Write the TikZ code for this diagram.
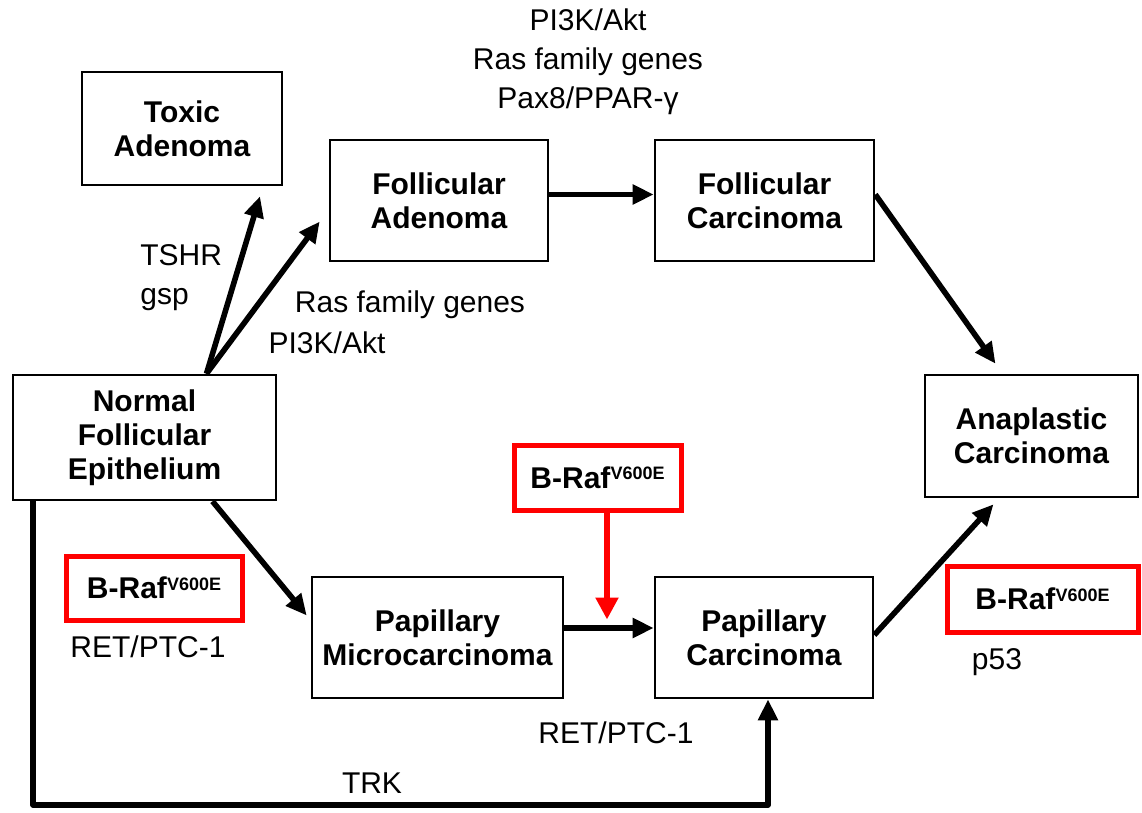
\documentclass[tikz,border=0pt]{standalone}
\usepackage{fontspec}
\setmainfont{Liberation Sans}
\usetikzlibrary{arrows.meta}
\newcommand{\braf}{\textbf{B-Raf}\raisebox{4.2pt}{\fontsize{9}{9}\selectfont\bfseries V600E}}
\begin{document}
\begin{tikzpicture}[x=0.5pt,y=-0.5pt,
  box/.style={draw,line width=1.3pt,align=center,inner sep=0pt,
    font=\fontsize{15}{17}\selectfont\bfseries},
  rbox/.style={draw=red,line width=2.5pt,inner sep=0pt,
    font=\fontsize{15}{17}\selectfont},
  arr/.style={line width=2.8pt,line join=round,-{Triangle[length=10.5pt,width=9.5pt]}},
  rarr/.style={draw=red,line width=2.6pt,-{Triangle[length=11pt,width=11pt]}},
  lab/.style={font=\fontsize{15}{19.5}\selectfont,inner sep=0pt}]
\useasboundingbox (0,0) rectangle (1142,813);
% boxes
\node[box,minimum width=100pt,minimum height=56.5pt] (toxic) at (182,128.5) {Toxic\\Adenoma};
\node[box,minimum width=109pt,minimum height=60.5pt] (fa) at (439,200.5) {Follicular\\Adenoma};
\node[box,minimum width=109.5pt,minimum height=60.5pt] (fc) at (764.5,200.5) {Follicular\\Carcinoma};
\node[box,minimum width=131.5pt,minimum height=62.5pt] (normal) at (144.5,437.5) {Normal\\Follicular\\Epithelium};
\node[box,minimum width=106.5pt,minimum height=61pt] (ana) at (1031.5,436) {Anaplastic\\Carcinoma};
\node[box,minimum width=125.5pt,minimum height=60.5pt] (pm) at (437.5,637.5) {Papillary\\Microcarcinoma};
\node[box,minimum width=109pt,minimum height=60.5pt] (pc) at (764,637.5) {Papillary\\Carcinoma};
\node[rbox,minimum width=83.5pt,minimum height=32.5pt] (rtop) at (597.5,477.5) {\braf};
\node[rbox,minimum width=88pt,minimum height=32pt] (rleft) at (154,588) {\braf};
\node[rbox,minimum width=95.5pt,minimum height=33pt] (rright) at (1042.5,599) {\braf};
% labels
\node[lab,align=center] (ltop) at (588,62) {PI3K/Akt\\Ras family genes\\Pax8/PPAR-γ};
\node[lab,align=left,anchor=west] (ltshr) at (140,277.5) {TSHR\\gsp};
\node[lab] (lras) at (410,305) {Ras family genes};
\node[lab] (lpi3k) at (327,343) {PI3K/Akt};
\node[lab] (lret1) at (148,647) {RET/PTC-1};
\node[lab] (lret2) at (616,733) {RET/PTC-1};
\node[lab] (ltrk) at (372,783) {TRK};
\node[lab] (lp53) at (997,662) {p53};
% connectors
\draw[arr] ([xshift=31pt]normal.north) -- ([xshift=39pt,yshift=-5pt]toxic.south);
\draw[arr] ([xshift=31pt]normal.north) -- ([xshift=-4.5pt,yshift=-10.5pt]fa.west);
\draw[arr] ([yshift=3pt]fa.east) -- ([yshift=3pt]fc.west);
\draw[arr] ([yshift=3pt]fc.east) -- ([xshift=-18pt,yshift=5pt]ana.north);
\draw[arr] ([xshift=34pt]normal.south) -- ([xshift=-2pt,yshift=11pt]pm.west);
\draw[arr] ([yshift=4.75pt]pm.east) -- ([yshift=4.75pt]pc.west);
\draw[rarr] ([xshift=4.75pt]rtop.south) -- ([xshift=4.75pt,yshift=-53.5pt]rtop.south);
\draw[arr] ([yshift=1.25pt]pc.east) -- ([xshift=-19pt,yshift=-3pt]ana.south);
\coordinate (bl) at (33,805);
\draw[arr] (normal.south -| bl) -- (bl) -| ([xshift=2pt]pc.south);
\end{tikzpicture}
\end{document}
